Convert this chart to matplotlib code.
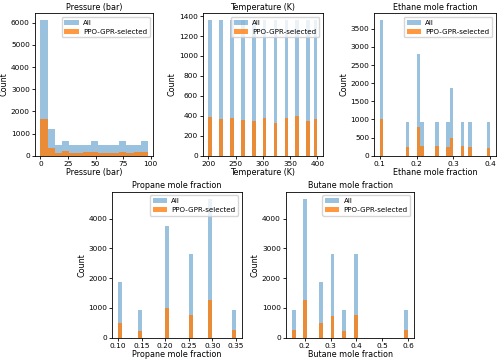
import numpy as np
import matplotlib
matplotlib.use("Agg")
import matplotlib.pyplot as plt

# ---------------- data ----------------
pressure_bin_centers = [3.25, 9.75, 16.25, 22.75, 29.25, 35.75, 42.25, 48.75,
                        55.25, 61.75, 68.25, 74.75, 81.25, 87.75, 94.25]
pressure_all = [6120, 1220, 490, 680, 490, 490, 490, 680, 490, 490, 490, 680, 490, 490, 680]
pressure_sel = [1640, 358, 134, 194, 120, 134, 150, 164, 120, 134, 120, 180, 134, 150, 180]
pressure_xticks = [0, 25, 50, 75, 100]

temp_values = [200, 220, 240, 260, 280, 300, 320, 340, 360, 380, 400]
temp_all = [1360] * 11
temp_sel = [385, 365, 375, 360, 350, 375, 325, 380, 395, 345, 365]
temp_xticks = [200, 250, 300, 350, 400]

ethane_values = [0.105, 0.175, 0.205, 0.215, 0.255, 0.285, 0.295, 0.325, 0.345, 0.395]
ethane_all = [3740, 935, 2805, 935, 935, 935, 1870, 935, 935, 935]
ethane_sel = [1000, 240, 780, 280, 260, 240, 500, 270, 230, 220]
ethane_xticks = [0.1, 0.2, 0.3, 0.4]

propane_values = [0.10, 0.15, 0.20, 0.25, 0.30, 0.35]
propane_all = [1870, 935, 3740, 2805, 4675, 935]
propane_sel = [480, 240, 1000, 760, 1270, 260]
propane_xticks = [0.10, 0.15, 0.20, 0.25, 0.30, 0.35]
propane_xticklabels = ["0.10", "0.15", "0.20", "0.25", "0.30", "0.35"]

butane_values = [0.15, 0.20, 0.26, 0.305, 0.35, 0.40, 0.60]
butane_all = [935, 4675, 1870, 2805, 935, 2805, 935]
butane_sel = [260, 1280, 490, 720, 230, 750, 260]
butane_xticks = [0.2, 0.3, 0.4, 0.5, 0.6]

panels = [
    ("Pressure (bar)", pressure_bin_centers, pressure_all, pressure_sel, 15, (0, 97.5),
     pressure_xticks, None),
    ("Temperature (K)", temp_values, temp_all, temp_sel, 30, (200, 400), temp_xticks, None),
    ("Ethane mole fraction", ethane_values, ethane_all, ethane_sel, 30, (0.1, 0.4),
     ethane_xticks, None),
    ("Propane mole fraction", propane_values, propane_all, propane_sel, 30, (0.1, 0.35),
     propane_xticks, propane_xticklabels),
    ("Butane mole fraction", butane_values, butane_all, butane_sel, 30, (0.15, 0.6),
     butane_xticks, None),
]

W, H = 500, 361
rects_px = [
    (35.0, 13.3, 153.3, 155.7),
    (203.0, 13.3, 322.7, 155.7),
    (374.3, 13.3, 495.7, 155.7),
    (112.3, 191.7, 241.7, 337.7),
    (286.0, 191.7, 414.0, 337.7),
]

plt.rcParams['font.family'] = ['DejaVu Sans']
fig = plt.figure(figsize=(W / 100, H / 100), dpi=100)

for (title, vals, a, s, nb, rng, xt, xtl), (x0, y0, x1, y1) in zip(panels, rects_px):
    ax = fig.add_axes([x0 / W, 1 - y1 / H, (x1 - x0) / W, (y1 - y0) / H])
    ax.hist(vals, bins=nb, range=rng, weights=a, color='tab:blue', alpha=0.45, label='All')
    ax.hist(vals, bins=nb, range=rng, weights=s, color='tab:orange', alpha=0.8,
            label='PPO-GPR-selected')
    ax.set_xticks(xt)
    if xtl is not None:
        ax.set_xticklabels(xtl)
    ax.set_title(title, fontsize=5.8, pad=2.5)
    ax.set_xlabel(title, fontsize=5.8, labelpad=1)
    ax.set_ylabel('Count', fontsize=5.8, labelpad=1.5)
    ax.tick_params(labelsize=5.3, length=2.5, width=0.6, pad=1.2)
    for sp in ax.spines.values():
        sp.set_linewidth(0.6)
    ax.legend(fontsize=5.1, loc='upper right', handlelength=2.0,
              borderpad=0.4, labelspacing=0.4, handletextpad=0.6)

fig.savefig('out.png', dpi=100)
